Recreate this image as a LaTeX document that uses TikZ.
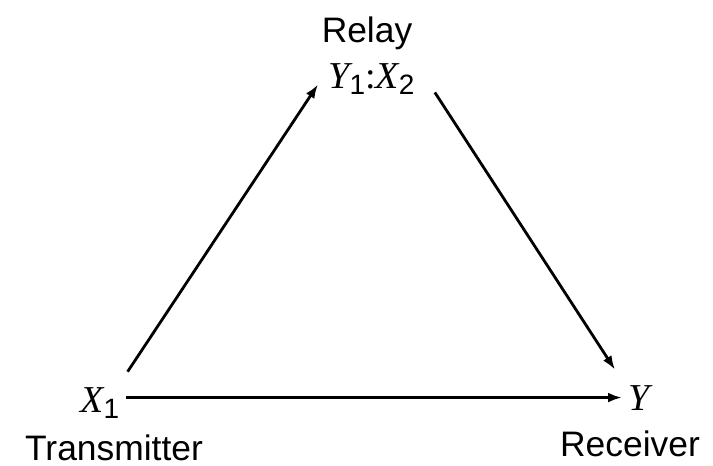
\documentclass[tikz,border=0pt]{standalone}
\usepackage{fontspec}
\setmainfont{Liberation Sans}
\newfontfamily\tms{Liberation Serif}
\usetikzlibrary{arrows.meta, positioning}
\newcommand{\var}[2]{{\tms\itshape #1}\raisebox{-3pt}{\fontsize{14}{14}\selectfont #2}}

\begin{document}
\begin{tikzpicture}[x=0.5pt, y=-0.5pt,
            lbl/.style={font=\fontsize{17.7}{20}\selectfont, inner sep=0pt, anchor=base},
            v/.style={font=\fontsize{19}{21}\selectfont, inner sep=3pt, anchor=base west},
            arr/.style={line width=1.4pt, -{Latex[length=7pt, width=5pt]}}]
            \useasboundingbox (0,0) rectangle (713,466);
            \node[lbl] (relay) at (367,42)  {Relay};
            \node[v]   (rv)    at (322,88)  {\var{Y}{1}{\tms:}\var{X}{2}};
            \node[v]   (x1)    at (74,412)  {\var{X}{1}};
            \node[v]   (y)     at (622,410) {{\tms\itshape Y}};
            \node[lbl] (tx)    at (114,460) {Transmitter};
            \node[lbl] (rx)    at (630,456) {Receiver};
            \draw[arr] ([xshift=1pt, yshift=4.5pt]x1.north east) -- ([xshift=-2pt, yshift=8pt]rv.south west);
            \draw[arr] ([xshift=7pt, yshift=4pt]rv.south east) -- ([xshift=-3.5pt, yshift=4.5pt]y.north west);
            \draw[arr] (y.west -| x1.east) -- (y.west);
\end{tikzpicture}
\end{document}
